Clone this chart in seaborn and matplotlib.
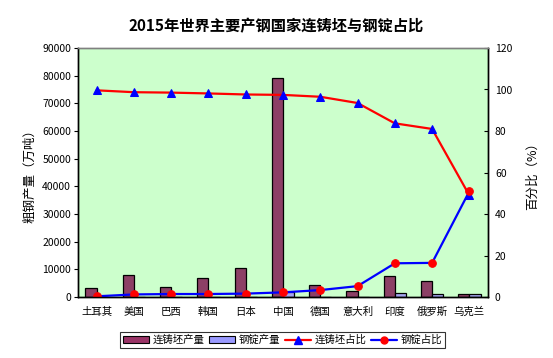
import numpy as np
import pandas as pd
import matplotlib
matplotlib.use('Agg')
import matplotlib.pyplot as plt
import seaborn as sns
from matplotlib.ticker import FixedLocator, NullFormatter
from matplotlib.patches import Patch
from matplotlib.lines import Line2D

# data
countries = ['土耳其', '美国', '巴西', '韩国', '日本', '中国', '德国', '意大利', '印度', '俄罗斯', '乌克兰']
cc_output = [3250, 7950, 3600, 6870, 10480, 79000, 4320, 2160, 7560, 5760, 1080]
ingot_output = [15, 105, 55, 105, 180, 1870, 150, 120, 1470, 1170, 1120]
cc_ratio = [99.6, 98.7, 98.5, 98.1, 97.6, 97.4, 96.5, 93.5, 83.7, 81.0, 49.0]
ingot_ratio = [0.4, 1.3, 1.5, 1.5, 1.7, 2.3, 3.4, 5.3, 16.3, 16.5, 51.0]

sns.set_style('white')
plt.rcParams['font.family'] = ['Noto Sans CJK SC', 'DejaVu Sans']
plt.rcParams['axes.unicode_minus'] = False
plt.rcParams['text.color'] = 'black'
plt.rcParams['axes.labelcolor'] = 'black'
plt.rcParams['xtick.color'] = 'black'
plt.rcParams['ytick.color'] = 'black'

bars = pd.DataFrame({
    'country': countries * 2,
    'value': cc_output + ingot_output,
    'series': ['连铸坯产量'] * len(countries) + ['钢锭产量'] * len(countries),
})

fig = plt.figure(figsize=(5.53, 3.58), dpi=100)
ax = fig.add_axes([0.141, 0.170, 0.7415, 0.696])
ax.set_facecolor('#CCFFCC')

sns.barplot(data=bars, x='country', y='value', hue='series', order=countries,
            palette={'连铸坯产量': '#993366', '钢锭产量': '#9999FF'},
            width=0.6, gap=0, edgecolor='black', linewidth=0.9, ax=ax, legend=False)
ax.set_xlim(-0.5, len(countries) - 0.5)
ax.set_ylim(0, 90000)
ax.set_yticks(np.arange(0, 90001, 10000))
ax.set_ylabel('粗钢产量（万吨）', fontsize=9, labelpad=4)
ax.set_xlabel('')
ax.tick_params(axis='x', which='major', length=0, labelsize=7.5, pad=7)
ax.xaxis.set_minor_locator(FixedLocator(np.arange(0.5, len(countries) - 0.5, 1)))
ax.xaxis.set_minor_formatter(NullFormatter())
ax.tick_params(axis='x', which='minor', direction='in', length=3, width=0.8)
ax.tick_params(axis='y', direction='out', length=3, labelsize=7.5, left=True, pad=2)

ax2 = ax.twinx()
xs = np.arange(len(countries))
sns.lineplot(x=xs, y=cc_ratio, ax=ax2, color='red', linewidth=1.6,
             marker='^', markersize=6, markerfacecolor='blue', markeredgecolor='blue',
             label='连铸坯占比')
sns.lineplot(x=xs, y=ingot_ratio, ax=ax2, color='blue', linewidth=1.6,
             marker='o', markersize=5.5, markerfacecolor='red', markeredgecolor='red',
             label='钢锭占比')
ax2.set_ylim(0, 120)
ax2.set_yticks(np.arange(0, 121, 20))
ax2.set_ylabel('百分比（%）', fontsize=9, labelpad=10)
ax2.tick_params(axis='y', direction='in', length=3, labelsize=7.5, right=True, pad=5)
ax2.set_xlim(-0.5, len(countries) - 0.5)
ax2.get_legend().remove()

for a in (ax, ax2):
    for side in ('left', 'right', 'bottom'):
        a.spines[side].set_color('black')
        a.spines[side].set_linewidth(1)
    a.spines['top'].set_color('#808080')
    a.spines['top'].set_linewidth(1)

fig.suptitle('2015年世界主要产钢国家连铸坯与钢锭占比', fontsize=11, fontweight='bold', y=0.95)

handles = [
    Patch(facecolor='#993366', edgecolor='black', linewidth=0.8),
    Patch(facecolor='#9999FF', edgecolor='black', linewidth=0.8),
    Line2D([], [], color='red', lw=1.6, marker='^', markersize=5.5, markerfacecolor='blue', markeredgecolor='blue'),
    Line2D([], [], color='blue', lw=1.6, marker='o', markersize=5, markerfacecolor='red', markeredgecolor='red'),
]
labels = ['连铸坯产量', '钢锭产量', '连铸坯占比', '钢锭占比']
leg = fig.legend(handles, labels, loc='center', bbox_to_anchor=(0.511, 0.05), ncol=4,
                 fontsize=7.5, frameon=True, fancybox=False, edgecolor='black',
                 handlelength=2.5, handletextpad=0.3, columnspacing=0.5,
                 borderpad=0.3, borderaxespad=0)
leg.get_frame().set_linewidth(0.8)

fig.savefig('out.png', dpi=100)
